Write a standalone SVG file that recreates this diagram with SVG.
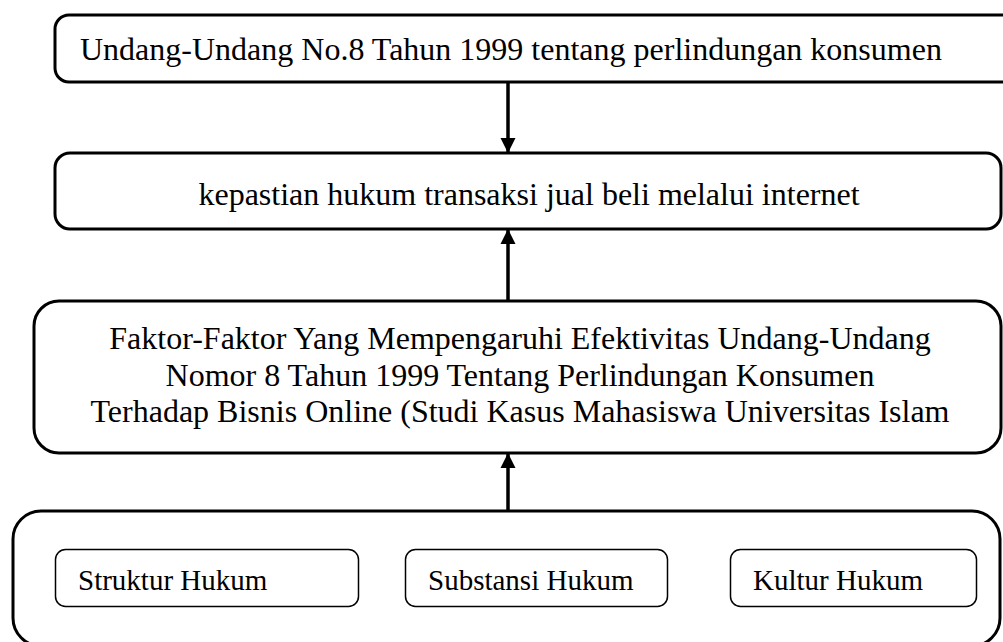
<svg xmlns="http://www.w3.org/2000/svg" width="1003" height="642" viewBox="0 0 1003 642">
  <style>
    .box { fill: #ffffff; stroke: #000000; stroke-width: 3; }
    .sub { fill: #ffffff; stroke: #000000; stroke-width: 1.5; }
    .lbl { font-family: "Liberation Serif", "Times New Roman", serif; font-size: 32px; fill: #000000; }
    .sml { font-family: "Liberation Serif", "Times New Roman", serif; font-size: 29px; fill: #000000; }
    .edge { stroke: #000000; stroke-width: 3.5; fill: none; }
  </style>
  <defs>
    <marker id="arrow" viewBox="0 0 10 10" refX="10" refY="5" markerWidth="4.4" markerHeight="4.4" markerUnits="strokeWidth" orient="auto">
      <path d="M0,0 L10,5 L0,10 z" fill="#000000"/>
    </marker>
  </defs>
  <rect width="1003" height="642" fill="#ffffff"/>

  <g id="node-uu">
    <rect class="box" x="55" y="15" width="980" height="67" rx="14"/>
    <text class="lbl" x="80" y="60">Undang-Undang No.8 Tahun 1999 tentang perlindungan konsumen</text>
  </g>

  <g id="node-kepastian">
    <rect class="box" x="55" y="153" width="946" height="76" rx="15"/>
    <text class="lbl" x="529" y="205" text-anchor="middle">kepastian hukum transaksi jual beli melalui internet</text>
  </g>

  <g id="node-faktor">
    <rect class="box" x="34" y="301" width="967" height="152" rx="25"/>
    <text class="lbl" x="520" y="349" text-anchor="middle">Faktor-Faktor Yang Mempengaruhi Efektivitas Undang-Undang</text>
    <text class="lbl" x="520" y="385.5" text-anchor="middle">Nomor 8 Tahun 1999 Tentang Perlindungan Konsumen</text>
    <text class="lbl" x="520" y="422" text-anchor="middle">Terhadap Bisnis Online (Studi Kasus Mahasiswa Universitas Islam</text>
  </g>

  <g id="node-sistem">
    <rect class="box" x="13" y="511" width="987" height="135" rx="28"/>
  </g>

  <g id="node-struktur">
    <rect class="sub" x="55.5" y="549.5" width="303" height="57" rx="10"/>
    <text class="sml" x="78" y="590">Struktur Hukum</text>
  </g>

  <g id="node-substansi">
    <rect class="sub" x="405.5" y="549.5" width="262" height="57" rx="10"/>
    <text class="sml" x="428" y="590">Substansi Hukum</text>
  </g>

  <g id="node-kultur">
    <rect class="sub" x="730.5" y="549.5" width="246" height="57" rx="10"/>
    <text class="sml" x="753" y="590">Kultur Hukum</text>
  </g>

  <g id="connectors">
    <line class="edge" x1="508" y1="82" x2="508" y2="153" marker-end="url(#arrow)"/>
    <line class="edge" x1="508" y1="301" x2="508" y2="229" marker-end="url(#arrow)"/>
    <line class="edge" x1="508" y1="511" x2="508" y2="453" marker-end="url(#arrow)"/>
  </g>
</svg>
